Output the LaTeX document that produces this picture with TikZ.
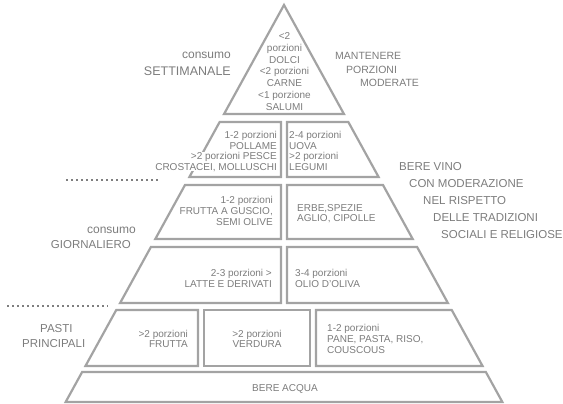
\documentclass[tikz,border=0pt]{standalone}
\usepackage{fontspec}
\setmainfont{Liberation Sans}
\definecolor{linegray}{HTML}{A3A3A3}
\definecolor{textgray}{HTML}{7C7C7C}
\definecolor{dotgray}{HTML}{7E7E7E}
\begin{document}
\begin{tikzpicture}[x=1pt,y=-1pt,
  layer/.style={draw=linegray,line width=2.2pt,line join=miter},
  txt/.style={text=textgray,inner sep=0pt,font=\fontsize{10}{10.7}\selectfont},
  tri/.style={text=textgray,inner sep=0pt,font=\fontsize{10}{11.8}\selectfont,align=center},
  side/.style={text=textgray,inner sep=0pt},
  dots/.style={draw=dotgray,line width=2pt,dash pattern=on 2pt off 3pt}]
\useasboundingbox (0,0) rectangle (563,404);

% top triangle
\draw[layer] (284,5) -- (343.95,114) -- (224.05,114) -- cycle;
% layer 2
\draw[layer] (219.65,122) -- (281,122) -- (281,177) -- (189.4,177) -- cycle;
\draw[layer] (287,122) -- (348.35,122) -- (378.6,177) -- (287,177) -- cycle;
% layer 3
\draw[layer] (185,185) -- (281,185) -- (281,239) -- (155.3,239) -- cycle;
\draw[layer] (287,185) -- (383,185) -- (412.7,239) -- (287,239) -- cycle;
% layer 4
\draw[layer] (150.9,247) -- (281,247) -- (281,303) -- (120.1,303) -- cycle;
\draw[layer] (287,247) -- (417.1,247) -- (447.9,303) -- (287,303) -- cycle;
% layer 5
\draw[layer] (116.25,310) -- (198,310) -- (198,366) -- (85.45,366) -- cycle;
\draw[layer] (204,310) -- (310,310) -- (310,366) -- (204,366) -- cycle;
\draw[layer] (316,310) -- (451.75,310) -- (482.55,366) -- (316,366) -- cycle;
% layer 6
\draw[layer] (82.15,372) -- (485.85,372) -- (502.35,402) -- (65.65,402) -- cycle;

% dotted separators
\coordinate (d1a) at (66,180);
\coordinate (d1b) at (160,180);
\coordinate (d2a) at (7,306);
\coordinate (d2b) at (108,306);
\draw[dots] (d1a) -- (d1b);
\draw[dots] (d2a) -- (d2b);

% texts in the pyramid
\node[tri] (t1) at (284.5,71.5) {<2\\porzioni\\DOLCI\\<2 porzioni\\CARNE\\<1 porzione\\SALUMI};
\node[txt,align=right,anchor=east] (t2la) at (277,140.4) {1-2 porzioni\\POLLAME};
\node[txt,align=right,anchor=east,fill=white] (t2lb) at (277,161.7) {>2 porzioni PESCE\\CROSTACEI, MOLLUSCHI};
\node[txt,align=left,anchor=west] (t2r) at (289,151) {2-4 porzioni\\UOVA\\>2 porzioni\\LEGUMI};
\node[txt,align=right,anchor=east] (t3l) at (273,211) {1-2 porzioni\\FRUTTA A GUSCIO,\\SEMI OLIVE};
\node[txt,align=left,anchor=west] (t3r) at (297,213.5) {ERBE,SPEZIE\\AGLIO, CIPOLLE};
\node[txt,align=right,anchor=east] (t4l) at (272,278.5) {2-3 porzioni >\\LATTE E DERIVATI};
\node[txt,align=left,anchor=west] (t4r) at (295,278.5) {3-4 porzioni\\OLIO D'OLIVA};
\node[txt,align=right,anchor=east] (t5l) at (188,339) {>2 porzioni\\FRUTTA};
\node[txt,align=center] (t5m) at (257,339) {>2 porzioni\\VERDURA};
\node[txt,align=left,anchor=west] (t5r) at (327,339) {1-2 porzioni\\PANE, PASTA, RISO,\\COUSCOUS};
\node[txt] (t6) at (285,389) {BERE ACQUA};

% side labels
\node[side,anchor=east,font=\fontsize{12}{14}\selectfont] (cs1) at (231,55) {consumo};
\node[side,anchor=east,font=\fontsize{12.5}{14}\selectfont] (cs2) at (231,71) {SETTIMANALE};
\node[side,anchor=west,font=\fontsize{10.5}{12}\selectfont] (m1) at (335,56) {MANTENERE};
\node[side,anchor=west,font=\fontsize{10.5}{12}\selectfont] (m2) at (346,69.5) {PORZIONI};
\node[side,anchor=west,font=\fontsize{10.5}{12}\selectfont] (m3) at (360,83) {MODERATE};
\node[side,anchor=west,font=\fontsize{11.5}{13}\selectfont] (v1) at (399,167) {BERE VINO};
\node[side,anchor=west,font=\fontsize{11.5}{13}\selectfont] (v2) at (409,184) {CON MODERAZIONE};
\node[side,anchor=west,font=\fontsize{11.5}{13}\selectfont] (v3) at (423,201) {NEL RISPETTO};
\node[side,anchor=west,font=\fontsize{11.5}{13}\selectfont] (v4) at (433,218) {DELLE TRADIZIONI};
\node[side,anchor=west,font=\fontsize{11.5}{13}\selectfont] (v5) at (441,235) {SOCIALI E RELIGIOSE};
\node[side,anchor=east,font=\fontsize{12}{14}\selectfont] (cg1) at (136,230) {consumo};
\node[side,anchor=east,font=\fontsize{11.5}{14}\selectfont] (cg2) at (131,245) {GIORNALIERO};
\node[side,anchor=west,font=\fontsize{11.5}{14}\selectfont] (p1) at (40,329) {PASTI};
\node[side,anchor=west,font=\fontsize{11.5}{14}\selectfont] (p2) at (22,344) {PRINCIPALI};
\end{tikzpicture}
\end{document}
